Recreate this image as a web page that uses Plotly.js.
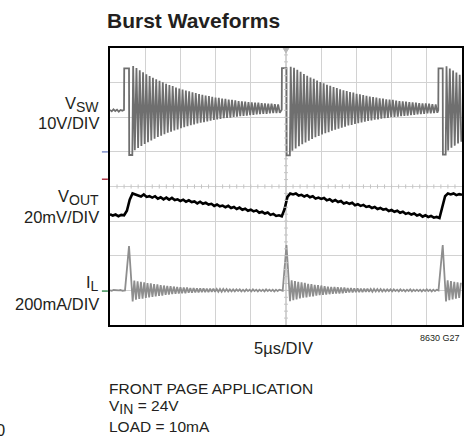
<!DOCTYPE html>
<html>
<head>
<meta charset="utf-8">
<script src="https://cdn.plot.ly/plotly-3.0.1.min.js"></script>
<style>html,body{margin:0;padding:0;background:#fff;}#chart{width:474px;height:444px;}</style>
</head>
<body>
<div id="chart"></div>
<script>
// ---- data (time in µs, amplitude in screen divisions, 0 = bottom graticule line) ----
const ringStep = 0.234;          // half period of switch ringing, µs

// V_SW channel
const vswPre   = [6.21, 6.17, 6.23, 6.18, 6.22, 6.16, 6.21, 6.19];   // t = 0, 0.25, ...
const vswEdgeT = [[1.99, 2.70, 3.17], [24.39, 25.07, 25.55], [46.63, 47.26, 47.68]]; // rise, fall, ring start
const vswBase  = [6.21, 6.22, 6.21];
const vswHigh  = [7.41, 7.42, 7.41];
const vswLow   = [4.91, 4.90, 4.92];
const vswRing1 = [7.48,5.05,7.42,5.11,7.36,5.17,7.30,5.23,7.24,5.28,7.19,5.33,7.14,5.38,7.10,5.43,7.05,5.47,7.01,5.51,
  6.97,5.55,6.93,5.58,6.90,5.62,6.86,5.65,6.83,5.68,6.80,5.71,6.77,5.74,6.75,5.77,6.72,5.79,6.70,5.82,
  6.67,5.84,6.65,5.86,6.63,5.88,6.61,5.90,6.59,5.92,6.57,5.94,6.56,5.95,6.54,5.97,6.53,5.98,6.51,5.99,
  6.50,6.01,6.49,6.02,6.47,6.03,6.46,6.04,6.45,6.05,6.44,6.06,6.43,6.07,6.42,6.08,6.42,6.09,6.41,6.10,
  6.40,6.10,6.39,6.11,6.39,6.12,6.38,6.12,6.37,6.13];
const vswRing2 = [7.46,5.03,7.43,5.10,7.37,5.16,7.31,5.22,7.25,5.27,7.20,5.32,7.15,5.37,7.11,5.42,7.06,5.46,7.02,5.50,
  6.98,5.54,6.94,5.57,6.91,5.61,6.87,5.64,6.84,5.67,6.81,5.70,6.78,5.73,6.76,5.76,6.73,5.78,6.71,5.81,
  6.68,5.83,6.66,5.85,6.64,5.87,6.62,5.89,6.60,5.91,6.58,5.93,6.57,5.94,6.55,5.96,6.54,5.97,6.52,5.98,
  6.51,6.00,6.50,6.01,6.48,6.02,6.47,6.03,6.46,6.04,6.45,6.05,6.44,6.06,6.43,6.07,6.42,6.08,6.41,6.09,
  6.40,6.10,6.40,6.11,6.39,6.11,6.38,6.12,6.37,6.13];
const vswRing3 = [7.47,5.04,7.41,5.12,7.35,5.18,7.29,5.24,7.23,5.29];

// V_OUT channel, sampled every 0.4 µs from t = 0
const voutStep = 0.4;
const vout = [3.20,3.16,3.19,3.14,3.18,3.17,3.30,3.62,3.80,3.76,
  3.74,3.71,3.77,3.70,3.72,3.68,3.72,3.65,3.69,3.63,
  3.68,3.62,3.67,3.61,3.63,3.58,3.62,3.56,3.60,3.55,
  3.57,3.51,3.56,3.50,3.53,3.48,3.50,3.44,3.48,3.43,
  3.45,3.40,3.44,3.38,3.41,3.35,3.39,3.33,3.36,3.30,
  3.33,3.28,3.31,3.24,3.27,3.22,3.25,3.18,3.21,3.15,
  3.17,3.14,3.35,3.70,3.80,3.77,3.80,3.74,3.76,3.71,
  3.75,3.69,3.72,3.65,3.68,3.64,3.67,3.60,3.63,3.57,
  3.61,3.55,3.58,3.51,3.54,3.50,3.53,3.46,3.49,3.44,
  3.47,3.41,3.43,3.38,3.41,3.35,3.38,3.33,3.35,3.29,
  3.32,3.27,3.30,3.24,3.27,3.21,3.24,3.19,3.22,3.16,
  3.19,3.13,3.17,3.12,3.15,3.10,3.12,3.09,3.40,3.72,
  3.80,3.77,3.80,3.75,3.78,3.76];

// I_L channel
const ilPre    = [1.00, 0.99, 1.01, 1.00, 0.99, 1.00, 1.01, 0.99];   // t = 0, 0.25, ...
const ilSpikeT = [[2.13, 2.70, 3.22], [24.53, 25.07, 25.57], [46.66, 47.26, 47.73]]; // start, peak, ring start
const ilBase   = [1.00, 0.99, 1.00];
const ilPeak   = [2.28, 2.31, 2.31];
const ilRing1 = [0.68,1.28,0.73,1.26,0.75,1.25,0.76,1.23,0.78,1.21,0.80,1.20,0.81,1.18,0.83,1.17,0.84,1.15,0.85,1.14,
  0.87,1.13,0.88,1.12,0.89,1.11,0.90,1.10,0.91,1.09,0.92,1.08,0.92,1.08,0.93,1.07,0.93,1.07,0.94,1.06,
  0.94,1.06,0.95,1.06,0.95,1.05,0.95,1.05,0.96,1.05,0.96,1.04,0.96,1.04,0.96,1.04,0.97,1.04,0.97,1.03,
  0.97,1.03,0.97,1.03,0.98,1.03,0.97,1.02,0.97,1.03,0.98,1.02,0.97,1.03,0.98,1.02,0.97,1.02,0.98,1.02,
  0.97,1.03,0.98,1.02,0.98,1.02,0.97,1.02,0.98,1.02];
const ilRing2 = [0.69,1.29,0.72,1.27,0.74,1.25,0.77,1.23,0.79,1.22,0.80,1.19,0.82,1.18,0.83,1.16,0.85,1.15,0.86,1.14,
  0.87,1.12,0.88,1.11,0.89,1.10,0.90,1.10,0.91,1.09,0.91,1.08,0.92,1.08,0.93,1.07,0.94,1.07,0.94,1.06,
  0.95,1.06,0.95,1.05,0.95,1.05,0.96,1.05,0.96,1.04,0.96,1.04,0.97,1.04,0.97,1.04,0.97,1.03,0.97,1.03,
  0.98,1.03,0.97,1.03,0.98,1.02,0.97,1.03,0.98,1.02,0.97,1.02,0.98,1.03,0.97,1.02,0.98,1.02,0.98,1.02,
  0.97,1.02,0.98,1.03,0.98,1.02,0.97,1.02,0.98,1.02];
const ilRing3 = [0.68,1.29,0.72,1.27,0.74,1.25,0.76,1.23,0.78,1.22];

// channel ground-reference markers on the left edge (divisions)
const refMarkerY     = [5.00, 4.21, 0.98];
const refMarkerColor = ['#7f8fca', '#b03a4a', '#3f9058'];

// ---- build traces ----
function buildVsw() {
  const x = [], y = [];
  vswPre.forEach((v, i) => { x.push(i * 0.25); y.push(v); });
  const rings = [vswRing1, vswRing2, vswRing3];
  vswEdgeT.forEach((e, b) => {
    x.push(e[0]); y.push(vswBase[b]);
    x.push(e[0] + 0.03); y.push(vswHigh[b]);
    x.push(e[1]); y.push(vswHigh[b]);
    x.push(e[1] + 0.03); y.push(vswLow[b]);
    x.push(e[2]); y.push(vswLow[b]);
    rings[b].forEach((v, i) => { x.push(e[2] + 0.12 + i * ringStep); y.push(v); });
  });
  return {x, y};
}
function buildIl() {
  const x = [], y = [];
  ilPre.forEach((v, i) => { x.push(i * 0.25); y.push(v); });
  const rings = [ilRing1, ilRing2, ilRing3];
  ilSpikeT.forEach((e, b) => {
    x.push(e[0]); y.push(ilBase[b]);
    x.push(e[1]); y.push(ilPeak[b]);
    rings[b].forEach((v, i) => { x.push(e[2] + i * ringStep); y.push(v); });
  });
  return {x, y};
}
const vsw = buildVsw();
const il = buildIl();

const traces = [
  {type: 'scatter', mode: 'lines', x: vsw.x, y: vsw.y, line: {color: '#6f6f6f', width: 1.8}, hoverinfo: 'skip'},
  {type: 'scatter', mode: 'lines', x: vout.map((v, i) => i * voutStep), y: vout, line: {color: '#000000', width: 2.6}, hoverinfo: 'skip'},
  {type: 'scatter', mode: 'lines', x: il.x, y: il.y, line: {color: '#8e8e8e', width: 1.8}, hoverinfo: 'skip'}
];

// ---- graticule centre-line ticks ----
const shapes = [];
for (let t = 1; t < 50; t++) {
  shapes.push({type: 'line', xref: 'x', yref: 'y', x0: t, x1: t, y0: 3.94, y1: 4.06, line: {color: '#c4c4c4', width: 1}});
}
for (let k = 1; k < 40; k++) {
  const yv = k * 0.2;
  shapes.push({type: 'line', xref: 'x', yref: 'y', x0: 24.72, x1: 25.28, y0: yv, y1: yv, line: {color: '#c4c4c4', width: 1}});
}
refMarkerY.forEach((yv, i) => {
  shapes.push({type: 'line', xref: 'paper', yref: 'y', x0: -0.023, x1: -0.006, y0: yv, y1: yv, line: {color: refMarkerColor[i], width: 1.5}});
});
// trigger marker at the top of the centre line
shapes.push({type: 'path', xref: 'x', yref: 'y', path: 'M 24.6 7.99 L 25.4 7.99 L 25 7.86 Z',
  fillcolor: '#b8b8b8', line: {color: '#b8b8b8', width: 1}});

const F = 'Liberation Sans, Arial, Helvetica, sans-serif';
const txt = '#231f20';
const SUB = (s) => '<sub><span style="font-size:14px">' + s + '</span></sub>';
function ann(text, x, y, xa, size, extra) {
  return Object.assign({text: text, xref: 'paper', yref: 'paper', x: x, y: y, xanchor: xa, yanchor: 'middle',
    showarrow: false, font: {family: F, size: size, color: txt}, align: xa}, extra || {});
}
const annotations = [
  ann('V' + SUB('SW'), -0.026, 0.797, 'right', 16.5),
  ann('10V/DIV', -0.026, 0.728, 'right', 16.5),
  ann('V' + SUB('OUT'), -0.026, 0.461, 'right', 16.5),
  ann('20mV/DIV', -0.026, 0.391, 'right', 16.5),
  ann('I' + SUB('L'), -0.026, 0.151, 'right', 16.5),
  ann('200mA/DIV', -0.026, 0.0755, 'right', 16.5),
  ann('5µs/DIV', 0.494, -0.0834, 'center', 16.5),
  ann('8630 G27', 1.0, -0.0462, 'right', 9),
  ann('FRONT PAGE APPLICATION', -0.0085, -0.229, 'left', 15.5),
  ann('V' + SUB('IN') + ' = 24V', -0.0085, -0.297, 'left', 15.5),
  ann('LOAD = 10mA', -0.0085, -0.367, 'left', 15.5),
  ann('0', -0.2918, -0.379, 'right', 16.5)
];

const axisCommon = {
  showgrid: true, gridcolor: '#d2d2d2', gridwidth: 1.2,
  showticklabels: false, ticks: '', zeroline: false,
  showline: true, mirror: true, linecolor: '#000000', linewidth: 2, fixedrange: true
};

const layout = {
  width: 474, height: 444,
  margin: {l: 110, r: 12, t: 48, b: 119, pad: 0},
  paper_bgcolor: '#ffffff', plot_bgcolor: '#ffffff',
  showlegend: false,
  title: {
    text: '<b>Burst Waveforms</b>',
    font: {family: F, size: 21, color: txt},
    xref: 'container', yref: 'container', x: 0.2257, xanchor: 'left', y: 0.954, yanchor: 'middle'
  },
  xaxis: Object.assign({range: [0, 50], tick0: 0, dtick: 5}, axisCommon),
  yaxis: Object.assign({range: [0, 8], tick0: 0, dtick: 1}, axisCommon),
  shapes: shapes,
  annotations: annotations
};

Plotly.newPlot('chart', traces, layout, {staticPlot: true, displayModeBar: false});
</script>
</body>
</html>
